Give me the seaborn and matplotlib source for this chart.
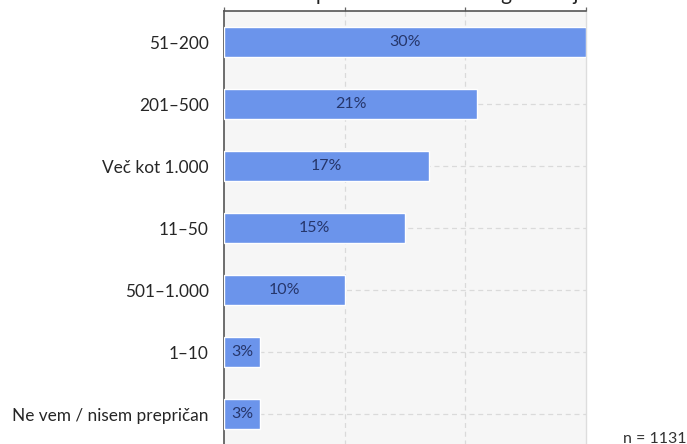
import matplotlib
matplotlib.use("Agg")
import matplotlib.pyplot as plt
import seaborn as sns
import pandas as pd

# Survey answers: company size (number of employees)
categories = ["51–200", "201–500", "Več kot 1.000", "11–50", "501–1.000", "1–10", "Ne vem / nisem prepričan"]
shares = [30, 21, 17, 15, 10, 3, 3]
title = "Koliko zaposlenih ima vaša organizacija?"
sample_note = "n = 1131"

df = pd.DataFrame({"kategorija": categories, "delez": shares})

sns.set_theme(style="white")
plt.rcParams["font.family"] = ["Lato", "DejaVu Sans"]

fig = plt.figure(figsize=(6.87, 4.44), dpi=100)
W, H = 687, 444
ax = fig.add_axes([224 / W, 1 - 445 / H, (586 - 224) / W, (445 - 11) / H])
ax.set_facecolor("#f6f6f6")

sns.barplot(data=df, x="delez", y="kategorija", orient="h", color="#6b94eb",
            saturation=1, width=0.48, ax=ax, zorder=3)

ax.bar_label(ax.containers[0], labels=[f"{v}%" for v in shares],
             label_type="center", color="#26366b", fontsize=11.5, zorder=4)

ax.set_xlim(0, 30)
ax.set_ylim(6.5, -0.5)
ax.set_xlabel("")
ax.set_ylabel("")
ax.set_xticks([0, 10, 20, 30])

# dashed guides
for x in (10, 20):
    ax.axvline(x, color="#dadada", lw=0.9, ls=(0, (4, 3)), zorder=1)
for i in range(len(categories)):
    ax.axhline(i, color="#dadada", lw=0.9, ls=(0, (4, 3)), zorder=1)

ax.xaxis.tick_top()
ax.tick_params(axis="x", which="both", length=3, width=0.9, color="#666666",
               labeltop=False, labelbottom=False, direction="out")
ax.tick_params(axis="y", length=7, width=0.9, color="#555555", labelsize=12.4,
               labelcolor="#262626", pad=4)

for side in ("top", "left"):
    ax.spines[side].set_color("#555555")
    ax.spines[side].set_linewidth(1.2)
ax.spines["right"].set_color("#dddddd")
ax.spines["right"].set_linewidth(1.0)
ax.spines["bottom"].set_visible(False)

fig.text(598 / W, 1 + 0.5 / H, title, ha="right", va="baseline",
         fontsize=15, color="#222222")
fig.text(623 / W, 1.5 / H, sample_note, ha="left", va="baseline",
         fontsize=11.5, color="#333333")

fig.savefig("out.png", dpi=100)
